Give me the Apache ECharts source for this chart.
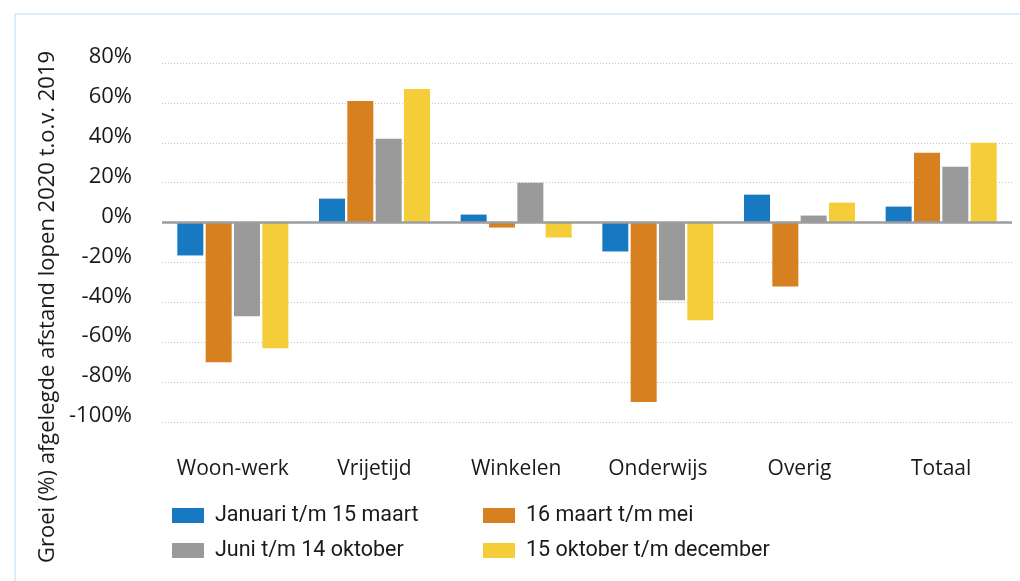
<!DOCTYPE html>
<html>
<head>
<meta charset="utf-8">
<script src="https://cdn.jsdelivr.net/npm/echarts@6/dist/echarts.min.js"></script>
<style>
html,body{margin:0;padding:0;background:#ffffff;}
#chart{width:1020px;height:581px;}
</style>
</head>
<body>
<div id="chart"></div>
<script>
const categories = ['Woon-werk', 'Vrijetijd', 'Winkelen', 'Onderwijs', 'Overig', 'Totaal'];
const seriesNames = ['Januari t/m 15 maart', '16 maart t/m mei', 'Juni t/m 14 oktober', '15 oktober t/m december'];
const janMaart = [-16.5, 12, 4, -14.5, 14, 8];
const maartMei = [-70, 61, -2.5, -90, -32, 35];
const juniOkt = [-47, 42, 20, -39, 3.5, 28];
const oktDec = [-63, 67, -7.5, -49, 10, 40];
const yTicks = { min: -100, max: 80, interval: 20 };
const yTitle = 'Groei (%) afgelegde afstand lopen 2020 t.o.v. 2019';

const colors = ['#1679c1', '#d6801f', '#9a9a9a', '#f4cd38'];
const valueSets = [janMaart, maartMei, juniOkt, oktDec];
const textColor = '#1a1a1a';

const series = seriesNames.map((name, i) => {
  const s = {
    name: name,
    type: 'bar',
    data: valueSets[i],
    barWidth: 26,
    barGap: '9%',
    itemStyle: { color: colors[i] },
    emphasis: { disabled: true },
    z: 2
  };
  if (i === 0) {
    s.markLine = {
      silent: true,
      symbol: ['none', 'none'],
      label: { show: false },
      lineStyle: { color: '#9d9d9d', width: 2.5, type: 'solid' },
      data: [{ yAxis: 0 }],
      z: 5
    };
  }
  return s;
});

const legendText = { color: textColor, fontFamily: 'Roboto', fontSize: 21.5, lineHeight: 20, padding: [0, 0, 0, 6] };

const chart = echarts.init(document.getElementById('chart'), null, { renderer: 'canvas' });
chart.setOption({
  animation: false,
  backgroundColor: '#ffffff',
  grid: { left: 162, right: 8, top: 63, bottom: 159, containLabel: false },
  xAxis: {
    type: 'category',
    data: categories,
    axisLine: { show: false, onZero: false },
    axisTick: { show: false },
    axisLabel: { color: textColor, fontFamily: 'Open Sans', fontSize: 21, margin: 37, interval: 0 },
    splitLine: { show: false }
  },
  yAxis: {
    type: 'value',
    min: yTicks.min,
    max: yTicks.max,
    interval: yTicks.interval,
    axisLine: { show: false },
    axisTick: { show: false },
    axisLabel: {
      color: textColor, fontFamily: 'Open Sans', fontSize: 22, margin: 30,
      verticalAlign: 'bottom', lineHeight: 12,
      formatter: v => v + '%'
    },
    splitLine: { show: true, lineStyle: { color: '#c4c4c4', width: 1, type: [1, 2] } }
  },
  legend: [
    {
      data: [seriesNames[0], seriesNames[2]],
      orient: 'vertical',
      left: 172, top: 504.5, padding: 0,
      itemWidth: 32, itemHeight: 15, itemGap: 13,
      icon: 'rect',
      selectedMode: false,
      textStyle: legendText
    },
    {
      data: [seriesNames[1], seriesNames[3]],
      orient: 'vertical',
      left: 483, top: 504.5, padding: 0,
      itemWidth: 32, itemHeight: 15, itemGap: 13,
      icon: 'rect',
      selectedMode: false,
      textStyle: legendText
    }
  ],
  graphic: [
    {
      type: 'rect',
      shape: { x: 15, y: 14, width: 1100, height: 700 },
      style: { fill: 'none', stroke: '#dcedf7', lineWidth: 2 },
      silent: true, z: -10
    },
    {
      type: 'text',
      x: 48, y: 307,
      rotation: Math.PI / 2,
      style: {
        text: yTitle,
        fill: textColor,
        font: '22px "Open Sans"',
        textAlign: 'center',
        textVerticalAlign: 'middle'
      },
      silent: true
    }
  ],
  series: series
});
</script>
</body>
</html>
